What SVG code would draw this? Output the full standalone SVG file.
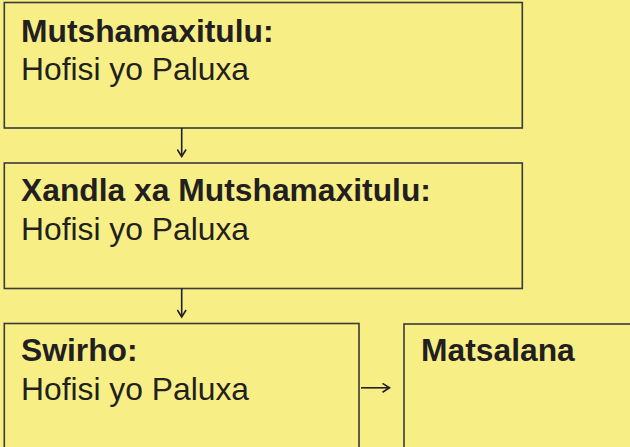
<svg xmlns="http://www.w3.org/2000/svg" width="630" height="447" viewBox="0 0 630 447">
<style>
.box{fill:#f7ef86;stroke:#3a3a3a;stroke-width:1.6}
.t{font-family:"Liberation Sans",Arial,sans-serif;font-size:31.8px;fill:#231f20}
.b{font-weight:bold}
.c{stroke:#231f20;stroke-width:1.6;fill:none}
</style>
<defs>
<marker id="ah" viewBox="0 0 10 10" refX="8.5" refY="5" markerWidth="10" markerHeight="10" markerUnits="userSpaceOnUse" orient="auto">
<path d="M1.5,0.6 L8.5,5 L1.5,9.4" fill="none" stroke="#231f20" stroke-width="1.6"/>
</marker>
</defs>
<rect width="630" height="447" fill="#f7ef86"/>
<g id="n1">
<rect class="box" x="4.3" y="2.5" width="518" height="125.5"/>
<text class="t b" x="21" y="41.5">Mutshamaxitulu:</text>
<text class="t" x="21" y="80">Hofisi yo Paluxa</text>
</g>
<g id="n2">
<rect class="box" x="4.3" y="163" width="518" height="125.5"/>
<text class="t b" x="21" y="201">Xandla xa Mutshamaxitulu:</text>
<text class="t" x="21" y="240">Hofisi yo Paluxa</text>
</g>
<g id="n3">
<rect class="box" x="4.3" y="323.5" width="354.7" height="140"/>
<text class="t b" x="21" y="361">Swirho:</text>
<text class="t" x="21" y="399.5">Hofisi yo Paluxa</text>
</g>
<g id="n4">
<rect class="box" x="404" y="324" width="240" height="140"/>
<text class="t b" x="421" y="360.5">Matsalana</text>
</g>
<g id="connectors">
<line class="c" x1="181.7" y1="128" x2="181.7" y2="156.5" marker-end="url(#ah)"/>
<line class="c" x1="181.7" y1="288.5" x2="181.7" y2="317" marker-end="url(#ah)"/>
<line class="c" x1="361" y1="387.8" x2="389.5" y2="387.8" marker-end="url(#ah)"/>
</g>
</svg>
